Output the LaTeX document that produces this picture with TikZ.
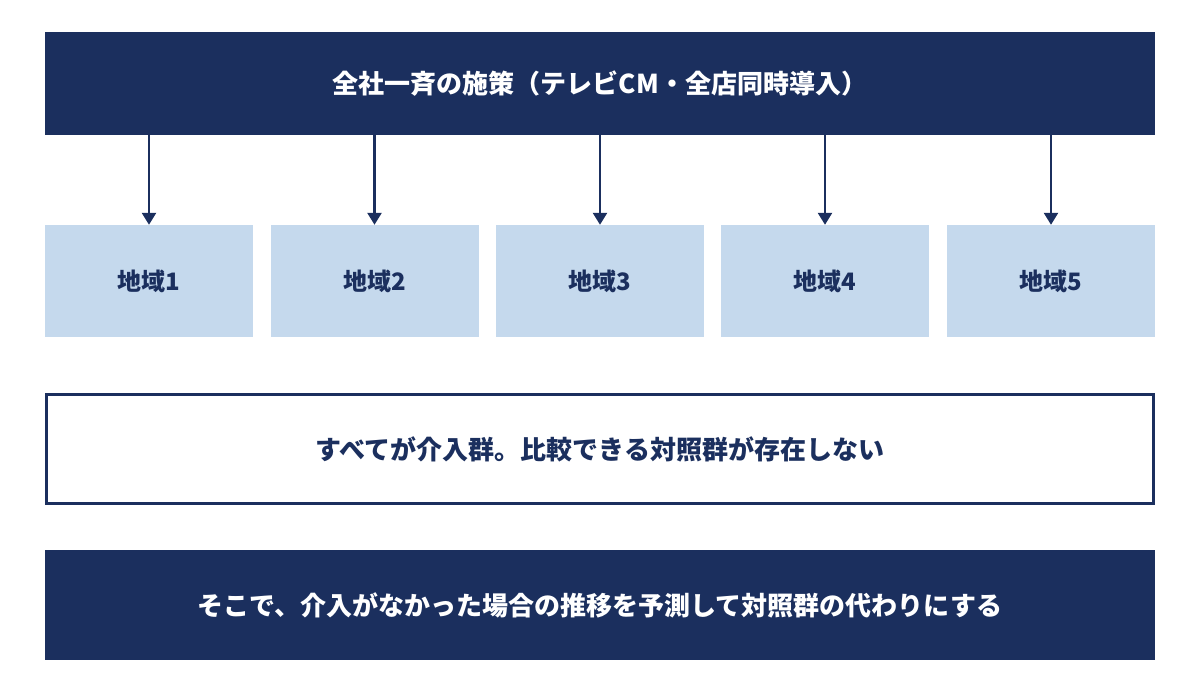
\documentclass[tikz,border=0pt]{standalone}
\usepackage{fontspec}
\setmainfont{Noto Sans CJK JP}
\usetikzlibrary{arrows.meta}
\definecolor{navy}{HTML}{1B2F5E}
\definecolor{lblue}{HTML}{C5D9ED}
\begin{document}
\begin{tikzpicture}[x=1pt,y=-1pt,
  bar/.style={fill=navy,draw=none,text=white,font=\fontsize{26}{30}\selectfont\bfseries,minimum height=103pt,minimum width=1110pt,inner sep=0pt},
  reg/.style={fill=lblue,draw=none,text=navy,font=\fontsize{24}{28}\selectfont\bfseries,minimum height=112pt,minimum width=208pt,inner sep=0pt},
  note/.style={fill=white,draw=navy,line width=3pt,text=navy,font=\fontsize{26}{30}\selectfont\bfseries,minimum height=109pt,minimum width=1107pt,inner sep=0pt},
  arr/.style={draw=navy,line width=2.5pt,-{Triangle[length=12pt,width=14pt]}}]
\useasboundingbox (0,0) rectangle (1200,675);
\node[bar] (top) at (600,83.5) {全社一斉の施策（テレビCM・全店同時導入）};
\foreach \i/\x in {1/149,2/374.5,3/600,4/825,5/1051}{
  \node[reg] (r\i) at (\x,281) {地域\i};
  \coordinate (s\i) at (\x,135);
  \draw[arr] (s\i) -- (r\i.north);
}
\node[note] (mid) at (600,449) {すべてが介入群。比較できる対照群が存在しない};
\node[bar,minimum height=110pt] (bot) at (600,605) {そこで、介入がなかった場合の推移を予測して対照群の代わりにする};
\end{tikzpicture}
\end{document}
